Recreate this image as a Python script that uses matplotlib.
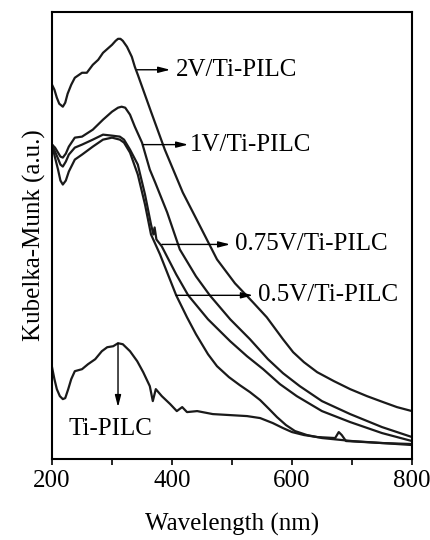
"""
    Diffuse reflectance UV-vis spectra (Kubelka-Munk) of V/Ti-PILC catalysts.
    Curves are offset for clarity, so the y axis is in arbitrary units.
"""

import matplotlib.pyplot as plt
from matplotlib.ticker import MultipleLocator, NullLocator

plt.rcParams['font.family'] = ['Liberation Serif', 'DejaVu Serif']
plt.rcParams['mathtext.fontset'] = 'stix'

# spectra: wavelength (nm) and K-M value (a.u., offset)
wl_2v = [200, 204, 208, 212, 218, 222, 226, 232, 238, 250, 258, 268, 277, 285, 300, 306, 310, 314, 318, 325, 333, 338, 343,
         365, 388, 418, 447, 475, 505, 535, 558, 585, 602, 620, 642, 670, 697, 725, 752, 775, 800]
km_2v = [3.75, 3.70, 3.62, 3.56, 3.53, 3.57, 3.66, 3.75, 3.82, 3.87, 3.87, 3.95, 4.00, 4.07, 4.15, 4.19, 4.21, 4.21, 4.19, 4.13, 4.03, 3.93, 3.85,
         3.48, 3.10, 2.67, 2.33, 2.00, 1.76, 1.57, 1.42, 1.20, 1.07, 0.97, 0.87, 0.78, 0.70, 0.63, 0.57, 0.52, 0.48]

wl_1v = [200, 205, 210, 214, 218, 223, 228, 238, 250, 268, 285, 300, 310, 316, 322, 330, 338, 350, 363, 372, 392, 413,
         440, 463, 497, 530, 560, 585, 613, 650, 697, 750, 800]
km_1v = [3.15, 3.12, 3.07, 3.03, 3.02, 3.06, 3.13, 3.22, 3.23, 3.30, 3.40, 3.48, 3.52, 3.53, 3.52, 3.45, 3.33, 3.17, 2.90, 2.77, 2.47, 2.10,
         1.83, 1.64, 1.40, 1.20, 1.00, 0.86, 0.73, 0.58, 0.45, 0.32, 0.22]

wl_075v = [200, 205, 210, 214, 218, 223, 228, 238, 250, 268, 285, 300, 313, 320, 330, 343, 355, 365, 369, 371, 374, 383,
           407, 427, 460, 497, 525, 552, 580, 608, 650, 697, 750, 800]
km_075v = [3.15, 3.08, 3.01, 2.95, 2.93, 2.98, 3.05, 3.12, 3.15, 3.20, 3.25, 3.24, 3.23, 3.20, 3.10, 2.95, 2.65, 2.35, 2.25, 2.32, 2.20, 2.13,
           1.85, 1.64, 1.40, 1.18, 1.03, 0.90, 0.75, 0.63, 0.48, 0.37, 0.26, 0.18]

wl_05v = [200, 205, 210, 214, 218, 223, 228, 238, 250, 268, 285, 300, 313, 320, 330, 343, 355, 365, 380, 407, 425, 440,
          460, 475, 495, 513, 530, 547, 562, 575, 590, 605, 625, 650, 700, 800]
km_05v = [3.15, 3.02, 2.90, 2.79, 2.75, 2.79, 2.88, 3.00, 3.05, 3.13, 3.20, 3.22, 3.20, 3.17, 3.07, 2.85, 2.55, 2.25, 2.05, 1.64, 1.42, 1.25,
          1.05, 0.93, 0.82, 0.74, 0.67, 0.59, 0.50, 0.42, 0.34, 0.28, 0.24, 0.21, 0.18, 0.14]

wl_ti = [200, 204, 208, 213, 218, 222, 227, 232, 238, 250, 260, 272, 283, 292, 302, 310, 318, 330, 342, 352, 363, 368,
         373, 383, 397, 408, 417, 425, 442, 468, 525, 547, 568, 585, 600, 620, 642, 672, 678, 683, 690, 750, 800]
km_ti = [0.92, 0.80, 0.70, 0.63, 0.60, 0.61, 0.70, 0.80, 0.88, 0.90, 0.95, 1.00, 1.08, 1.12, 1.13, 1.16, 1.15, 1.08, 0.98, 0.87, 0.73, 0.58,
         0.70, 0.63, 0.55, 0.48, 0.52, 0.47, 0.48, 0.45, 0.43, 0.41, 0.36, 0.31, 0.27, 0.24, 0.22, 0.21, 0.27, 0.24, 0.18, 0.16, 0.15]

labels = ["2V/Ti-PILC", "1V/Ti-PILC", "0.75V/Ti-PILC", "0.5V/Ti-PILC", "Ti-PILC"]

fig = plt.figure(figsize=(4.3, 5.4), dpi=100)
ax = fig.add_axes([0.121, 0.150, 0.837, 0.828])

for wl, km in [(wl_2v, km_2v), (wl_1v, km_1v), (wl_075v, km_075v), (wl_05v, km_05v), (wl_ti, km_ti)]:
    ax.plot(wl, km, color='#1a1a1a', lw=1.6, solid_joinstyle='round')

# horizontal arrows pointing from each curve to its label
arrow = dict(arrowstyle='-|>,head_length=0.7,head_width=0.18', color='k', lw=1.0, shrinkA=0, shrinkB=0)
horiz = [(342, 397, 3.90, 407), (352, 427, 3.15, 430), (383, 497, 2.15, 505), (407, 535, 1.64, 543)]
for (x0, x1, y, xt), lab in zip(horiz, labels[:4]):
    ax.annotate('', xy=(x1, y), xytext=(x0, y), arrowprops=arrow)
    ax.text(xt, y, lab, fontsize=18, va='center', ha='left')

# Ti-PILC: vertical arrow down from the peak
ax.annotate('', xy=(310, 0.52), xytext=(310, 1.16), arrowprops=arrow)
ax.text(298, 0.30, labels[4], fontsize=18, va='center', ha='center')

ax.set_xlim(200, 800)
ax.set_ylim(0, 4.48)
ax.xaxis.set_major_locator(MultipleLocator(200))
ax.xaxis.set_minor_locator(MultipleLocator(100))
ax.yaxis.set_major_locator(NullLocator())
ax.tick_params(axis='x', which='both', direction='out', length=4, width=1.2, labelsize=18, pad=4)
for s in ax.spines.values():
    s.set_linewidth(1.5)

ax.set_xlabel("Wavelength (nm)", fontsize=18, labelpad=15)
ax.set_ylabel("Kubelka-Munk (a.u.)", fontsize=18, labelpad=4)

fig.savefig("out.png", dpi=100)
